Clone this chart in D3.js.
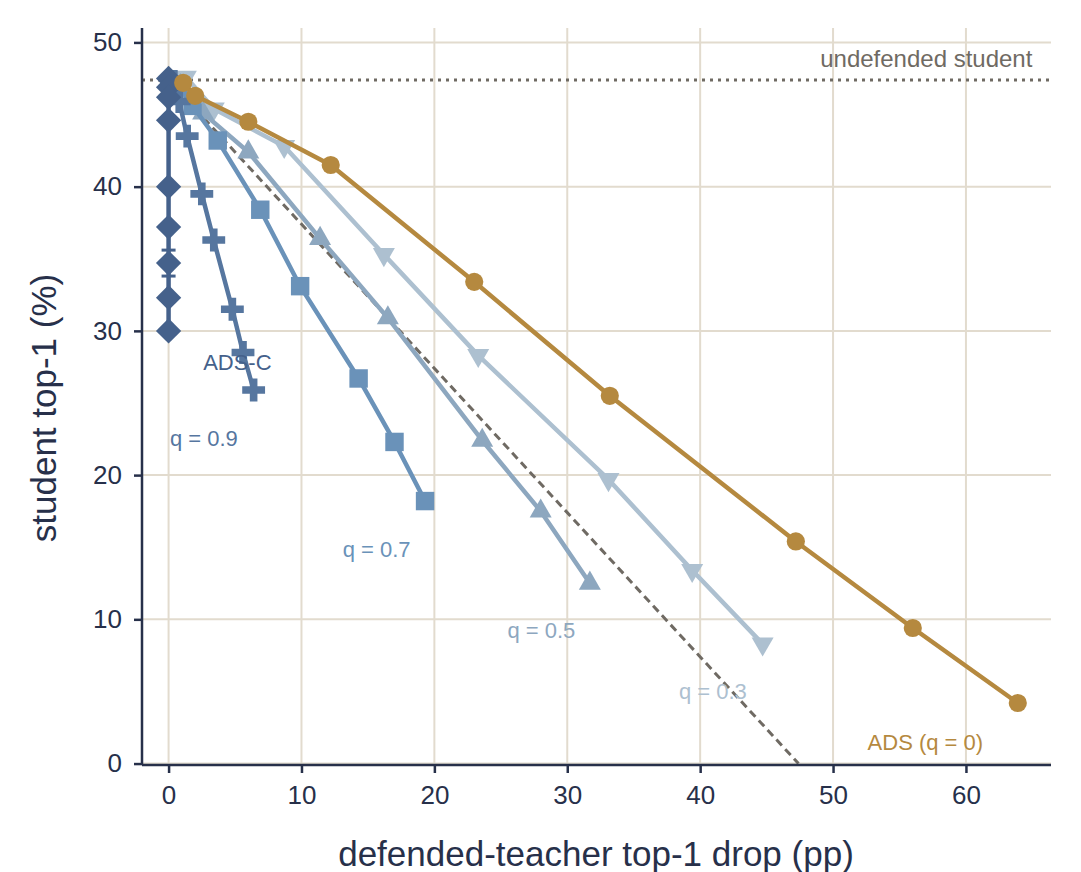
<!DOCTYPE html>
<html lang="en">

<head>
    <meta charset="UTF-8">
    <title>Student vs defended teacher</title>
    <script src="https://d3js.org/d3.v7.min.js"></script>
</head>
<style>
    body {
        margin: 0;
        background: #fff;
    }
    svg text {
        font-family: "Liberation Sans", Arial, sans-serif;
    }
</style>

<body>
    <svg width="1081" height="872"></svg>
    <script>
        // ---- data ----
        var xTicks = [0, 10, 20, 30, 40, 50, 60];
        var yTicks = [0, 10, 20, 30, 40, 50];

        var undefendedStudent = 47.4;

        var adsX = [1.1, 2.0, 6.0, 12.2, 23.0, 33.2, 47.2, 56.0, 63.9];
        var adsY = [47.2, 46.3, 44.5, 41.5, 33.4, 25.5, 15.4, 9.4, 4.2];

        var q03X = [1.3, 3.4, 8.7, 16.2, 23.3, 33.1, 39.4, 44.7];
        var q03Y = [47.6, 45.4, 42.8, 35.3, 28.3, 19.7, 13.4, 8.3];

        var q05X = [0.9, 2.6, 6.0, 11.4, 16.5, 23.6, 28.0, 31.7];
        var q05Y = [47.0, 45.1, 42.4, 36.4, 30.9, 22.4, 17.5, 12.5];

        var q07X = [0.7, 1.8, 3.7, 6.9, 9.9, 14.3, 17.0, 19.3];
        var q07Y = [47.0, 45.6, 43.2, 38.4, 33.1, 26.7, 22.3, 18.2];

        var q09X = [0.4, 0.8, 1.4, 2.5, 3.4, 4.8, 5.6, 6.4];
        var q09Y = [47.3, 45.9, 43.5, 39.5, 36.3, 31.5, 28.5, 25.9];

        var adscX = [0, 0, 0, 0, 0, 0, 0, 0, 0];
        var adscY = [47.5, 46.9, 46.2, 44.6, 40.0, 37.2, 34.7, 32.3, 30.0];
        var adscErr = [0, 0, 0, 0, 0, 0, 0.9, 0, 0];

        var seriesNames = ["q = 0.3", "q = 0.5", "q = 0.7", "q = 0.9", "ADS-C", "ADS (q = 0)"];
        // label anchor points (data units)
        var labelX = [38.4, 25.5, 13.1, 0.1, 2.6, 52.6];
        var labelY = [4.5, 8.7, 14.3, 22.0, 27.3, 0.95];

        /* ---- setup ---- */
        var svg = d3.select("svg");
        var x = d3.scaleLinear().domain([-2, 66.4]).range([142, 1051]);
        var y = d3.scaleLinear().domain([-0.1, 51]).range([765, 28]);

        var ink = "#27304a";
        var gridCol = "#e2dbce";
        var refCol = "#6f6a63";

        var series = [
            { xs: q03X, ys: q03Y, color: "#adc0d0", sym: d3.symbolTriangle, size: 210, rot: 180 },
            { xs: q05X, ys: q05Y, color: "#8da7bf", sym: d3.symbolTriangle, size: 210, rot: 0 },
            { xs: q07X, ys: q07Y, color: "#6a92b9", sym: d3.symbolSquare, size: 340, rot: 0 },
            { xs: q09X, ys: q09Y, color: "#56769f", sym: d3.symbolCross, size: 290, rot: 0 },
            { xs: adscX, ys: adscY, color: "#45618b", sym: d3.symbolSquare, size: 320, rot: 45 },
            { xs: adsX, ys: adsY, color: "#b5893f", sym: d3.symbolCircle, size: 260, rot: 0 }
        ];

        // grid
        svg.append("g").selectAll("line").data(xTicks).join("line")
            .attr("x1", d => x(d)).attr("x2", d => x(d))
            .attr("y1", y.range()[0]).attr("y2", y.range()[1])
            .style("stroke", gridCol).style("stroke-width", 2);
        svg.append("g").selectAll("line").data(yTicks).join("line")
            .attr("x1", x.range()[0]).attr("x2", x.range()[1])
            .attr("y1", d => y(d)).attr("y2", d => y(d))
            .style("stroke", gridCol).style("stroke-width", 2);

        // reference lines
        svg.append("line")
            .attr("x1", x(-2)).attr("x2", x(66.4))
            .attr("y1", y(undefendedStudent)).attr("y2", y(undefendedStudent))
            .style("stroke", refCol).style("stroke-width", 3)
            .style("stroke-dasharray", "3,5");
        svg.append("text")
            .attr("x", x(65.0)).attr("y", y(48.3))
            .attr("text-anchor", "end")
            .style("font-size", "24px").style("fill", refCol)
            .text("undefended student");

        // student = undefended - drop
        svg.append("line")
            .attr("x1", x(0)).attr("y1", y(undefendedStudent))
            .attr("x2", x(undefendedStudent)).attr("y2", y(0))
            .style("stroke", refCol).style("stroke-width", 3)
            .style("stroke-dasharray", "8,5");

        // series lines + markers
        var line = d3.line().x(d => x(d[0])).y(d => y(d[1]));
        series.forEach(function (s, i) {
            var pts = s.xs.map((v, j) => [v, s.ys[j]]);
            var g = svg.append("g");
            g.append("path").datum(pts)
                .attr("d", line)
                .style("fill", "none").style("stroke", s.color)
                .style("stroke-width", 4.5).style("stroke-linejoin", "round");
            if (i === 4) {
                // error bars for ADS-C
                adscErr.forEach(function (e, j) {
                    if (!e) return;
                    [adscY[j] - e, adscY[j] + e].forEach(function (v) {
                        g.append("line")
                            .attr("x1", x(adscX[j]) - 7).attr("x2", x(adscX[j]) + 7)
                            .attr("y1", y(v)).attr("y2", y(v))
                            .style("stroke", s.color).style("stroke-width", 3);
                    });
                });
            }
            g.selectAll("path.m").data(pts).join("path")
                .attr("class", "m")
                .attr("d", d3.symbol().type(s.sym).size(s.size))
                .attr("transform", d => "translate(" + x(d[0]) + "," + y(d[1]) + ") rotate(" + s.rot + ")")
                .style("fill", s.color);

            svg.append("text")
                .attr("x", x(labelX[i])).attr("y", y(labelY[i]))
                .style("font-size", "22px").style("fill", s.color)
                .text(seriesNames[i]);
        });

        // axes
        var xAxis = d3.axisBottom(x).tickValues(xTicks).tickSize(8).tickPadding(13);
        var yAxis = d3.axisLeft(y).tickValues(yTicks).tickSize(8).tickPadding(12);

        var gx = svg.append("g").attr("transform", "translate(0,765)").call(xAxis);
        var gy = svg.append("g").attr("transform", "translate(142,0)").call(yAxis);
        [gx, gy].forEach(function (g) {
            g.select(".domain").style("stroke", ink).style("stroke-width", 2.5)
                .attr("d", g === gx ? "M142,0H1051" : "M0,28V765");
            g.selectAll(".tick line").style("stroke", ink).style("stroke-width", 2.5);
            g.selectAll(".tick text").style("fill", ink).style("font-size", "26px")
                .style("font-family", "Liberation Sans, Arial, sans-serif");
        });

        svg.append("text")
            .attr("x", 596).attr("y", 866)
            .attr("text-anchor", "middle")
            .style("font-size", "35px").style("fill", ink)
            .text("defended-teacher top-1 drop (pp)");
        svg.append("text")
            .attr("transform", "translate(56,408) rotate(-90)")
            .attr("text-anchor", "middle")
            .style("font-size", "35px").style("fill", ink)
            .text("student top-1 (%)");
    </script>
</body>

</html>
